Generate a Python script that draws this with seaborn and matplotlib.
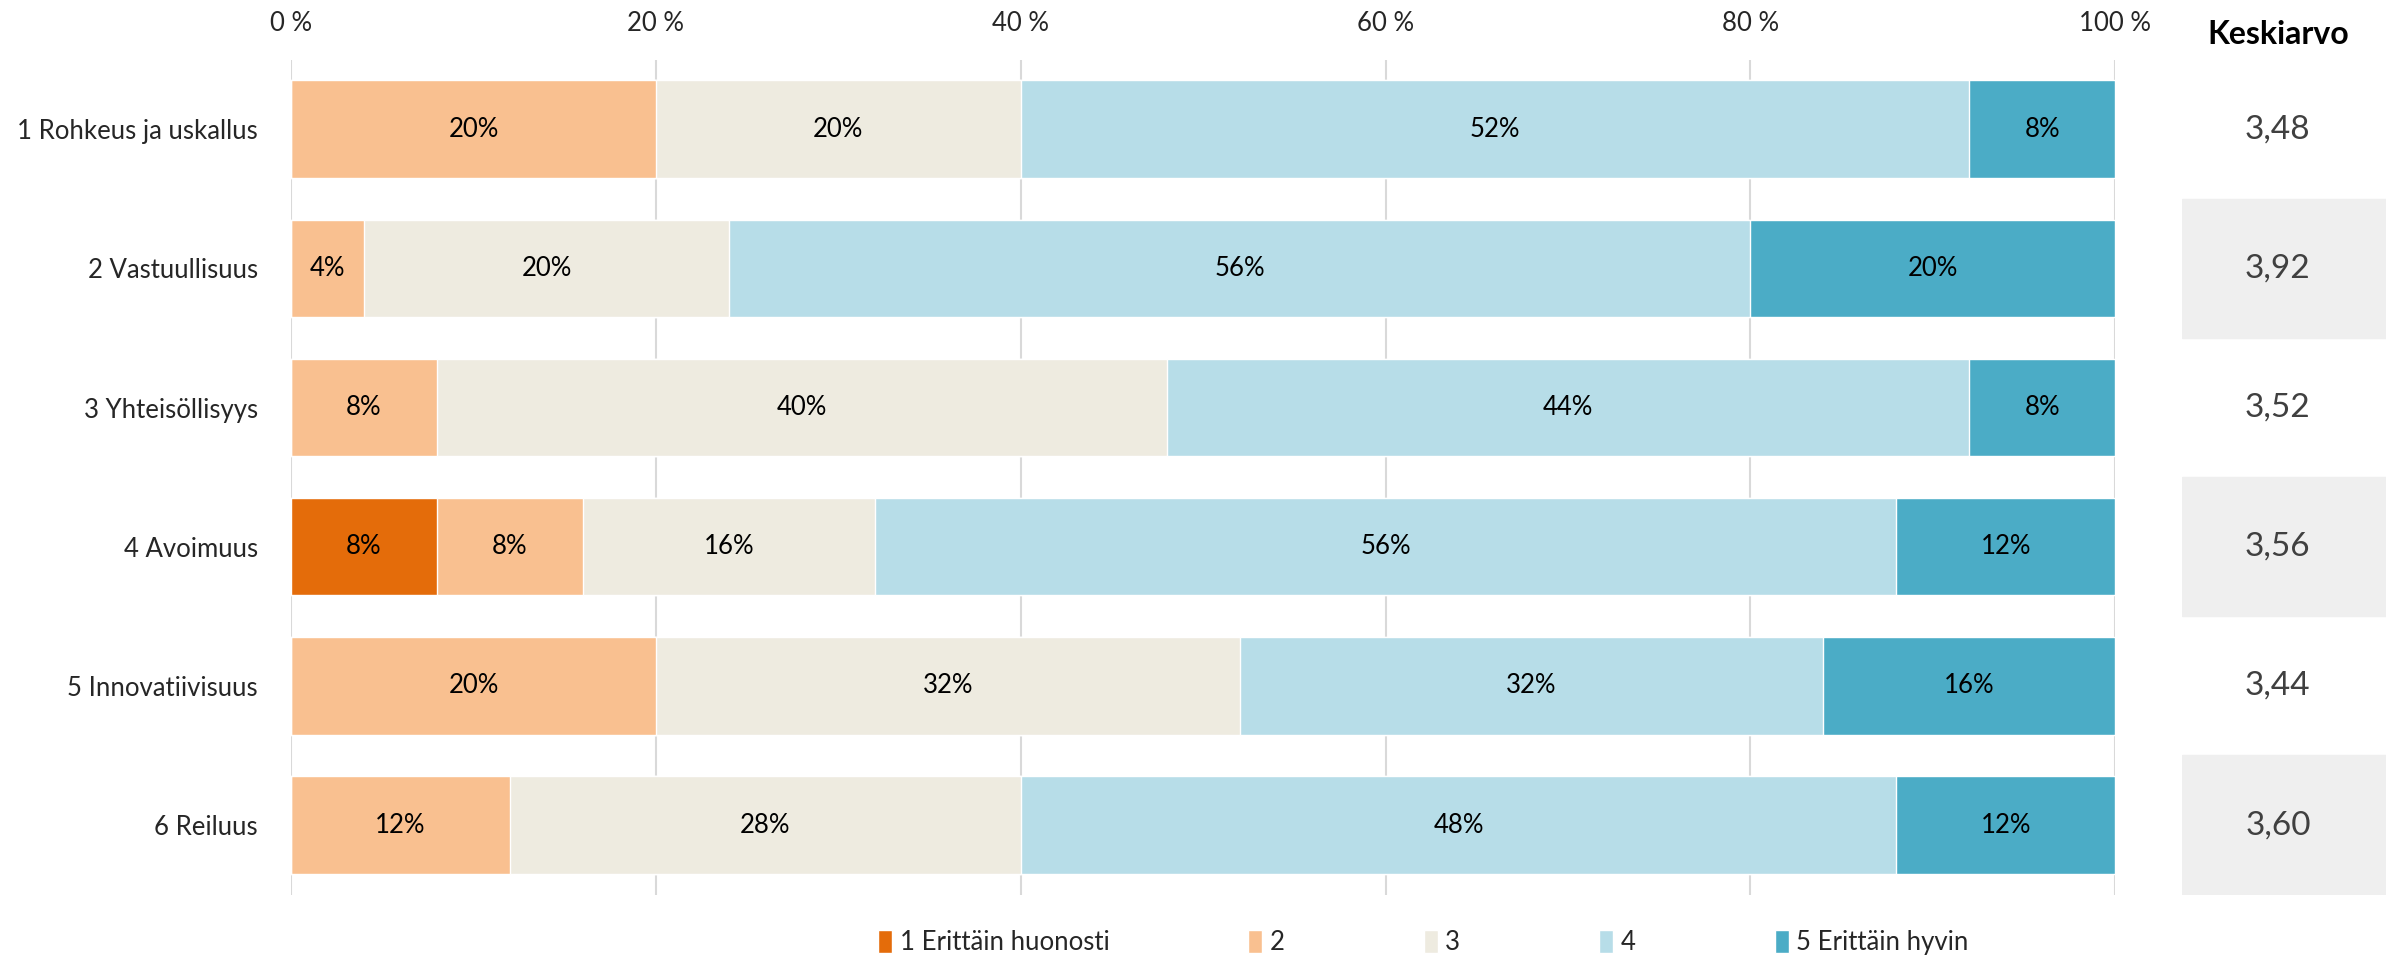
import numpy as np
import pandas as pd
import matplotlib
matplotlib.use('Agg')
import matplotlib.pyplot as plt
import seaborn as sns

# data
categories = ['1 Rohkeus ja uskallus', '2 Vastuullisuus', '3 Yhteisöllisyys',
              '4 Avoimuus', '5 Innovatiivisuus', '6 Reiluus']
levels = ['1 Erittäin huonosti', '2', '3', '4', '5 Erittäin hyvin']
level_1 = [0, 0, 0, 8, 0, 0]
level_2 = [20, 4, 8, 8, 20, 12]
level_3 = [20, 20, 40, 16, 32, 28]
level_4 = [52, 56, 44, 56, 32, 48]
level_5 = [8, 20, 8, 12, 16, 12]
means = ['3,48', '3,92', '3,52', '3,56', '3,44', '3,60']
xtick_vals = [0, 20, 40, 60, 80, 100]
xtick_labels = ['0 %', '20 %', '40 %', '60 %', '80 %', '100 %']
colors = ['#E46C0A', '#F9C090', '#EEEBE0', '#B7DDE8', '#4BACC6']

sns.set_style('white')
plt.rcParams['font.family'] = ['Lato', 'DejaVu Sans']

df = pd.DataFrame({'cat': categories, levels[0]: level_1, levels[1]: level_2,
                   levels[2]: level_3, levels[3]: level_4, levels[4]: level_5})
cum = df[levels].cumsum(axis=1)

fig = plt.figure(figsize=(23.86, 9.6), dpi=100)
ax = fig.add_axes([0.1220, 0.0681, 0.7645, 0.8698])

# stacked bars: draw cumulative totals from the longest down
for lev, col in reversed(list(zip(levels, colors))):
    sns.barplot(x=cum[lev], y=df['cat'], orient='h', color=col, width=0.7,
                saturation=1, edgecolor='white', linewidth=1, ax=ax, label=lev, zorder=2)

for i, row in df.iterrows():
    for lev in levels:
        v = row[lev]
        if v > 0:
            ax.text(cum.loc[i, lev] - v / 2, i, f'{v}%', ha='center', va='center',
                    fontsize=18.5, color='black', zorder=3)

ax.set_xlim(0, 100)
ax.set_ylim(5.5, -0.5)
ax.set_xticks(xtick_vals)
ax.set_xticklabels(xtick_labels, fontsize=18.5)
ax.xaxis.tick_top()
ax.tick_params(axis='x', length=0, pad=17)
ax.tick_params(axis='y', length=0, pad=24, labelsize=18.5)
ax.set_xlabel('')
ax.set_ylabel('')
ax.grid(axis='x', color='#D9D9D9', linewidth=1.5, zorder=0)
ax.set_axisbelow(True)
for s in ax.spines.values():
    s.set_visible(False)

handles, labels = ax.get_legend_handles_labels()
order = [labels.index(l) for l in levels]
fig.legend([handles[k] for k in order], levels, loc='center', ncol=5,
           bbox_to_anchor=(0.5965, 0.018), frameon=False, fontsize=18.5,
           handlelength=0.55, handleheight=1.0, handletextpad=0.3, columnspacing=5.4)
if ax.get_legend():
    ax.get_legend().remove()

# mean column
ax2 = fig.add_axes([0.9145, 0.0681, 0.0855, 0.8698])
ax2.set_xlim(0, 1)
ax2.set_ylim(5.5, -0.5)
ax2.axis('off')
for i, m in enumerate(means):
    if i % 2 == 1:
        ax2.axhspan(i - 0.5, i + 0.5, color='#EFEFEF', zorder=0)
    ax2.text(0.47, i, m, ha='center', va='center', fontsize=24, color='#404040')
fig.text(0.955, 0.964, 'Keskiarvo', ha='center', va='center', fontsize=23,
         fontweight='bold', color='black')

plt.savefig('out.png', dpi=100)
plt.close()
